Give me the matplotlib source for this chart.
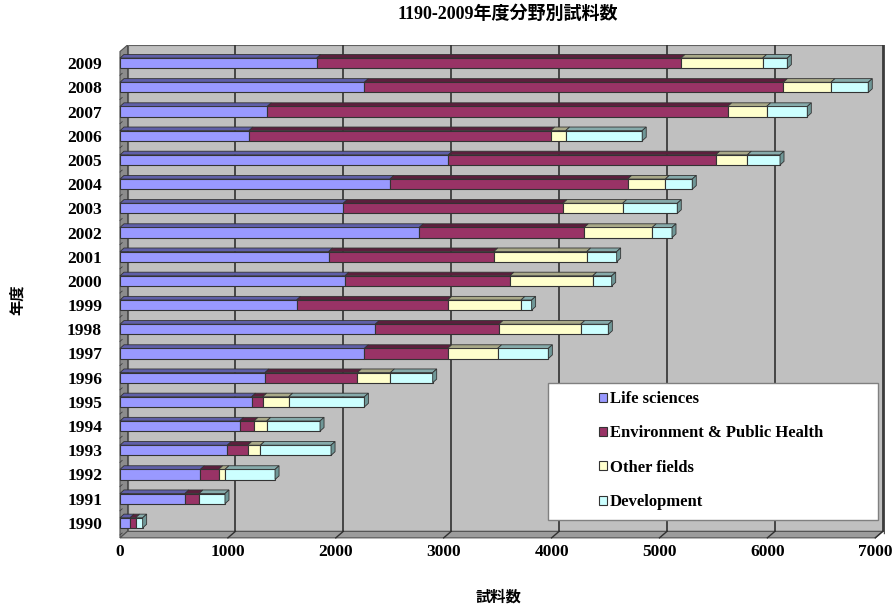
import matplotlib.pyplot as plt
from matplotlib.patches import Polygon, Patch, Rectangle

# data (1990 .. 2009)
years = [str(y) for y in range(1990, 2010)]
life = [93, 602, 745, 995, 1109, 1220, 1344, 2265, 2366, 1637,
        2085, 1934, 2774, 2070, 2502, 3043, 1196, 1365, 2265, 1823]
env = [52, 130, 170, 188, 133, 102, 856, 772, 1146, 1400,
       1529, 1530, 1529, 2036, 2203, 2478, 2795, 4267, 3883, 3377]
other = [0, 0, 58, 118, 118, 241, 306, 463, 758, 679,
         767, 861, 630, 553, 349, 293, 139, 361, 441, 756]
dev = [65, 241, 464, 655, 494, 702, 392, 470, 256, 99,
       176, 278, 183, 506, 250, 303, 710, 377, 346, 229]
labels = ["Life sciences", "Environment & Public Health", "Other fields", "Development"]
xticks = [0, 1000, 2000, 3000, 4000, 5000, 6000, 7000]

front = ["#9999FF", "#993366", "#FFFFCC", "#CCFFFF"]
top = ["#5f5fa8", "#5c1f3d", "#a9a988", "#86abab"]
side = ["#4f4f90", "#4a1830", "#8f8f70", "#6f9797"]

plt.rcParams['font.family'] = ['Liberation Serif', 'Noto Sans CJK JP']
plt.rcParams['font.weight'] = 'bold'

fig = plt.figure(figsize=(8.94, 6.07), dpi=100)
ax = fig.add_axes([114.6 / 894, 66 / 607, 770.4 / 894, 496 / 607])
ax.set_xlim(-50, 7090)
ax.set_ylim(-0.75, 19.75)
for s in ax.spines.values():
    s.set_visible(False)
ax.patch.set_alpha(0)

# 3D walls
wdx, wdy = 70, 0.27
fb, bb, wt = -0.62, -0.35, 19.75
ax.add_patch(Polygon([(wdx, bb), (7000 + wdx, bb), (7000 + wdx, wt), (wdx, wt)],
                     closed=True, fc="#c0c0c0", ec="#606060", lw=0.8, zorder=0))
ax.add_patch(Polygon([(0, fb), (wdx, bb), (wdx, wt), (0, wt - wdy)],
                     closed=True, fc="#8c8c8c", ec="#505050", lw=0.8, zorder=0))
ax.add_patch(Polygon([(0, fb), (7000, fb), (7000 + wdx, bb), (wdx, bb)],
                     closed=True, fc="#9c9c9c", ec="#505050", lw=0.8, zorder=0))
for x in xticks[1:]:
    ax.plot([x + wdx, x + wdx], [bb, wt], color="#303030", lw=1.2, zorder=1)
    ax.plot([x, x + wdx], [fb, bb], color="#303030", lw=1.0, zorder=1)
ax.plot([7000 + wdx + 15, 7000 + wdx + 15], [bb - 0.05, wt], color="#505050", lw=1.0, zorder=1)
for i in range(len(years)):
    ax.plot([0, 20], [i - 0.5, i - 0.5 + 0.08], color="#404040", lw=0.6, zorder=1)

# stacked 3D bars
h, dx, dy = 0.42, 37, 0.15
series = [life, env, other, dev]
for i in range(len(years)):
    left = 0
    last = None
    for k, vals in enumerate(series):
        v = vals[i]
        if v <= 0:
            continue
        ax.barh(i, v, left=left, height=h, color=front[k], edgecolor="#333333",
                linewidth=0.8, zorder=3)
        ax.add_patch(Polygon([(left, i + h / 2), (left + v, i + h / 2),
                              (left + v + dx, i + h / 2 + dy), (left + dx, i + h / 2 + dy)],
                             closed=True, fc=top[k], ec="#333333", lw=0.6, zorder=3))
        left += v
        last = k
    ax.add_patch(Polygon([(left, i - h / 2), (left, i + h / 2),
                          (left + dx, i + h / 2 + dy), (left + dx, i - h / 2 + dy)],
                         closed=True, fc=side[last], ec="#333333", lw=0.6, zorder=3))

ax.set_yticks(range(len(years)))
ax.set_yticklabels(years, fontsize=12.5)
ax.set_xticks(xticks)
ax.set_xticklabels([str(x) for x in xticks], fontsize=12.5)
ax.tick_params(axis='y', length=0, pad=9)
ax.tick_params(axis='x', length=0, pad=2)

fig.text(508 / 894, 1 - 14 / 607, "1190-2009年度分野別試料数", ha="center", va="center", fontsize=13)
fig.text(498 / 894, 1 - 597 / 607, "試料数", ha="center", va="center", fontsize=11)
fig.text(18 / 894, 1 - 300 / 607, "年度", ha="center", va="center", rotation=90, fontsize=11)

# legend box
fig.patches.append(Rectangle((548 / 894, 1 - 520 / 607), 330 / 894, 137 / 607,
                             transform=fig.transFigure, fc="white", ec="#808080", lw=1.0, zorder=5))
handles = [Patch(fc=front[k], ec="#333333", lw=0.8) for k in range(4)]
leg = fig.legend(handles, labels, loc="upper left", bbox_to_anchor=(599 / 894, 1 - 391 / 607),
                 frameon=False, fontsize=12, handlelength=0.45, handleheight=0.45,
                 handletextpad=0.2, labelspacing=1.1, borderaxespad=0, borderpad=0)
leg.set_zorder(6)

fig.savefig("out.png", dpi=100)
